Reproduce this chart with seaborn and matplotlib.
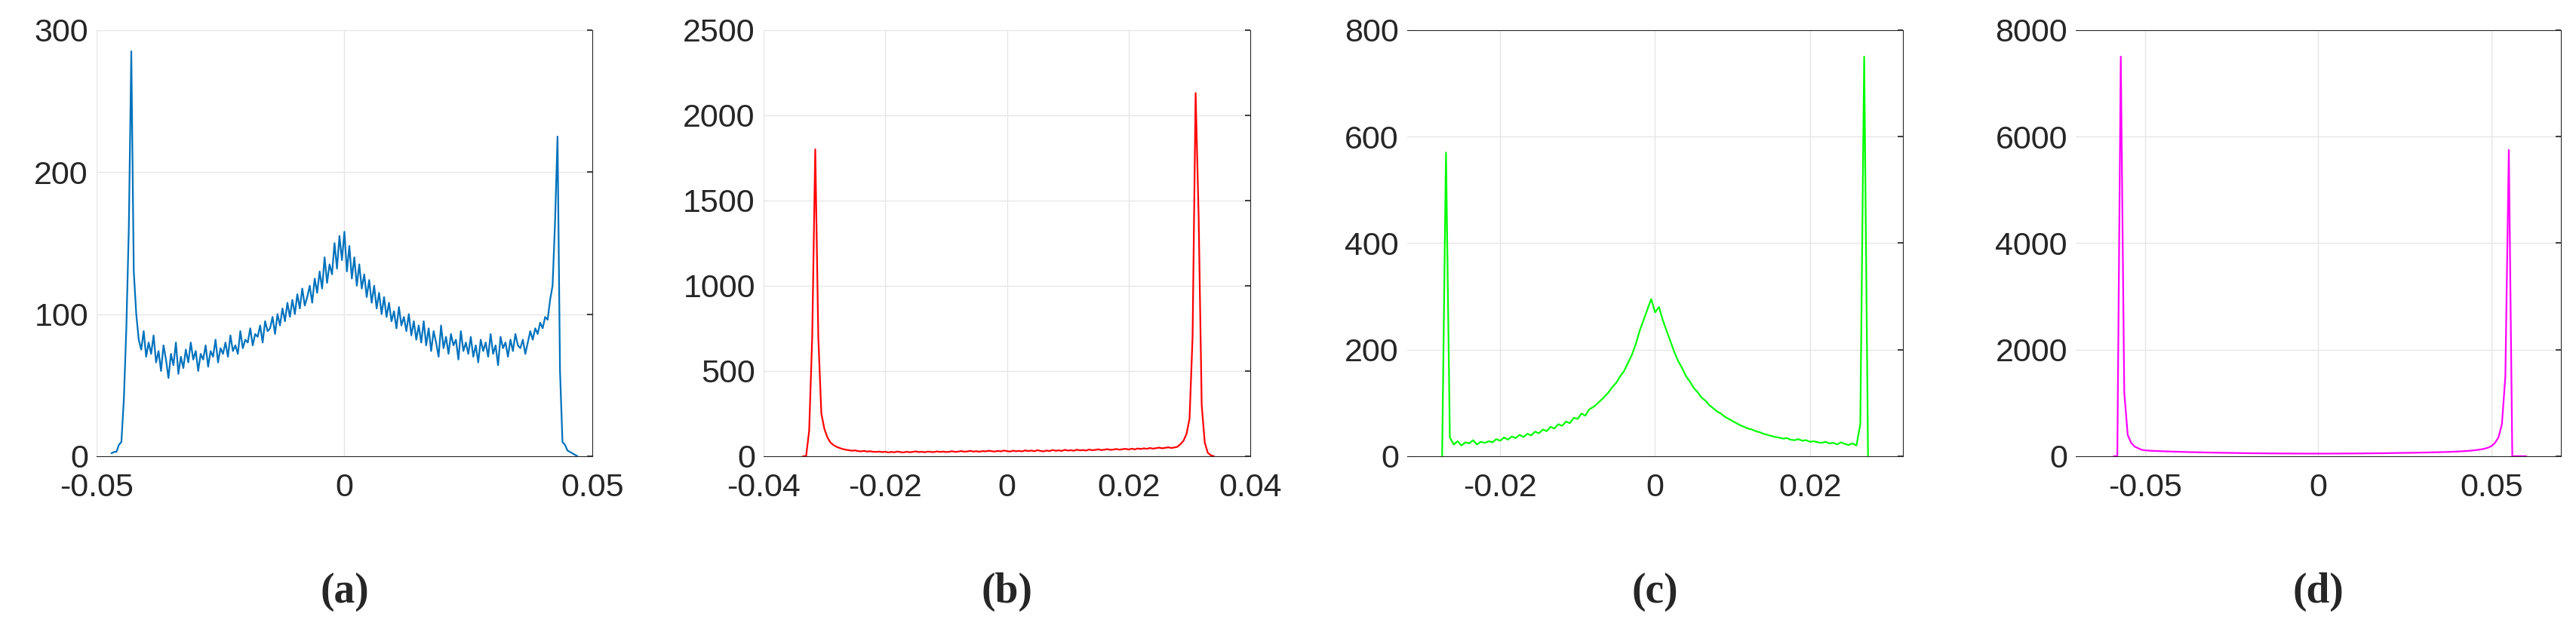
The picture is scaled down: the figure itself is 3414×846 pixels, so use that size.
import numpy as np
import pandas as pd
import matplotlib
matplotlib.use("Agg")
import matplotlib.pyplot as plt
import seaborn as sns

# ---------- data (histogram counts) ----------
a_lo, a_hi, a_step = -0.047, 0.047, 0.0005
a_counts = [2, 3, 3, 8, 10, 40, 90, 160, 285, 130, 100,
            82, 75, 88, 70, 80, 72, 85, 66, 74, 60, 78, 68, 55, 72, 64, 80, 58, 70, 62, 75, 66, 80, 68, 74,
            60, 72, 68, 78, 63, 74, 70, 82, 66, 76, 72, 80, 70, 85, 74, 78, 72, 88, 76, 82, 80, 90, 78, 86, 84, 92, 80, 95, 88, 90,
            98, 86, 100, 92, 104, 95, 108, 98, 110, 100, 114, 104, 118, 106, 112, 120, 108, 125, 115, 130, 118, 140, 122, 135, 128, 150, 132, 155, 138, 158,
            130, 148, 125, 140, 120, 135, 118, 128, 112, 124, 108, 120, 104, 115, 100, 112, 98, 108, 95, 102, 90, 105, 92, 98, 88, 100, 85, 95, 82, 92,
            80, 95, 78, 90, 74, 88, 80, 70, 92, 76, 84, 72, 86, 78, 82, 68, 88, 74, 80, 72, 84, 70, 78, 66, 82, 74, 80, 70, 86, 72, 78, 64, 84, 76, 80, 70, 82, 74, 86, 78, 76, 82, 72,
            80, 88, 82, 90, 86, 94, 90, 98, 96, 110,
            120, 165, 225, 60, 10, 8, 4, 3, 2, 1, 0]

b_lo, b_hi, b_step = -0.0335, 0.034, 0.0005
b_counts = [0, 0, 150, 700, 1800, 700, 250, 160, 110, 80, 65, 55, 48, 42,
            38, 35, 32, 34, 30, 28, 31, 27, 29, 26,
            25, 27, 24, 26, 22, 25, 23, 27, 24, 22,
            26, 23, 25, 28, 24, 26, 23, 27, 25, 24,
            28, 25, 27, 24, 26, 29, 25, 27, 30, 26,
            28, 31, 27, 29, 26, 30, 28, 32, 29, 27,
            31, 28, 33, 30, 27, 32, 29, 31, 28, 34,
            30, 33, 29, 35, 31, 28, 33, 30, 36, 32,
            34, 31, 37, 33, 35, 32, 38, 34, 36, 33,
            39, 35, 37, 40, 36, 38, 41, 37, 39, 42,
            38, 41, 43, 39, 44, 40, 45, 42, 46, 43,
            48, 44, 47, 50, 46, 49, 52, 48, 51,
            55, 70, 90, 130, 220, 700, 2130, 1400, 300, 80, 20, 5, 0]

c_lo, c_hi, c_step = -0.0275, 0.0275, 0.0005
c_counts = [0, 570,
            35, 22, 28, 20, 26, 24, 30, 22, 27, 25,
            28, 26, 32, 29, 35, 31, 37, 34, 40, 36,
            42, 39, 46, 43, 50, 47, 55, 52, 60, 57,
            65, 62, 72, 70, 80, 76, 88, 92, 98, 105,
            112, 120, 130, 138, 150, 160, 175, 190, 210, 235,
            255, 275, 295, 270, 280, 255, 235, 215, 195, 178,
            165, 150, 140, 128, 120, 110, 104, 96, 90, 84,
            80, 74, 70, 66, 62, 58, 55, 52, 50, 47,
            45, 42, 40, 38, 36, 35, 33, 34, 31, 30,
            32, 29, 30, 27, 28, 26, 25, 27, 24, 25,
            22, 26, 23, 21, 24, 20, 60,
            750, 0]

d_lo, d_hi, d_step = -0.059, 0.060, 0.001
d_counts = [0, 0, 7500, 1200, 400, 250, 180, 150, 120, 110,
            105, 100, 98, 95, 92, 90, 88, 85, 84, 82,
            80, 78, 76, 75, 73, 72, 70, 69, 68, 66,
            65, 64, 63, 62, 61, 60, 59, 58, 57, 56,
            55, 55, 54, 53, 53, 52, 52, 51, 51, 50,
            50, 50, 49, 49, 49, 48, 48, 48, 48, 48,
            48, 48, 48, 49, 49, 49, 50, 50, 50, 51,
            51, 52, 52, 53, 53, 54, 55, 55, 56, 57,
            58, 59, 60, 61, 62, 63, 64, 65, 66, 68,
            69, 70, 72, 73, 75, 77, 79, 81, 84, 87,
            90, 94, 98, 103, 110, 118, 128, 140, 160,
            190, 250, 350, 600, 1500, 5750, 0, 0, 0, 0, 0]

panel_labels = ["a", "b", "c", "d"]
colors = ["#0072BD", "#FF0000", "#00FF00", "#FF00FF"]
xlims = [(-0.05, 0.05), (-0.04, 0.04), (-0.032, 0.032), (-0.07, 0.07)]
xticks = [[-0.05, 0, 0.05], [-0.04, -0.02, 0, 0.02, 0.04], [-0.02, 0, 0.02], [-0.05, 0, 0.05]]
xticklabels = [["-0.05", "0", "0.05"], ["-0.04", "-0.02", "0", "0.02", "0.04"],
               ["-0.02", "0", "0.02"], ["-0.05", "0", "0.05"]]
ylims = [300, 2500, 800, 8000]
yticks = [[0, 100, 200, 300], [0, 500, 1000, 1500, 2000, 2500], [0, 200, 400, 600, 800],
          [0, 2000, 4000, 6000, 8000]]
top_spine = [False, False, True, True]

series = [(a_lo, a_hi, a_step, a_counts), (b_lo, b_hi, b_step, b_counts),
          (c_lo, c_hi, c_step, c_counts), (d_lo, d_hi, d_step, d_counts)]

# ---------- plotting ----------
sns.set_theme(style="white")
plt.rcParams['font.family'] = ['Liberation Sans', 'DejaVu Sans']

fig = plt.figure(figsize=(34.14, 8.46), dpi=100)
lefts = [0.0375, 0.2964, 0.5463, 0.8058]
widths = [0.1924, 0.189, 0.1924, 0.1883]
bottom, height = 0.285, 0.668

for i, (lo, hi, step, counts) in enumerate(series):
    ax = fig.add_axes([lefts[i], bottom, widths[i], height])
    x = lo + step * np.arange(len(counts))
    df = pd.DataFrame({"x": x, "y": counts})
    sns.lineplot(data=df, x="x", y="y", ax=ax, color=colors[i], linewidth=1.6)
    ax.set_xlim(*xlims[i])
    ax.set_ylim(0, ylims[i])
    ax.set_xticks(xticks[i])
    ax.set_xticklabels(xticklabels[i])
    ax.set_yticks(yticks[i])
    ax.set_yticklabels([str(v) for v in yticks[i]])
    ax.set_xlabel("")
    ax.set_ylabel("")
    ax.grid(True, color="#e6e6e6", linewidth=1.0)
    ax.set_axisbelow(True)
    ax.tick_params(axis="both", labelsize=31, colors="#262626", direction="in",
                   length=5, right=True, left=False, bottom=False)
    ax.tick_params(axis="x", pad=16)
    ax.tick_params(axis="y", pad=8)
    for s in ["left", "right", "bottom"]:
        ax.spines[s].set_color("#262626")
        ax.spines[s].set_linewidth(0.8)
    ax.spines["left"].set_visible(False)
    ax.spines["top"].set_visible(top_spine[i])
    ax.spines["top"].set_color("#262626")
    ax.spines["top"].set_linewidth(0.8)
    cx = lefts[i] + widths[i] / 2
    fig.text(cx, 0.072, "(" + panel_labels[i] + ")", ha="center", va="center",
             fontsize=40, family=["Liberation Serif", "DejaVu Serif"], fontweight="bold")

fig.savefig("out.png", dpi=100, facecolor="white")
